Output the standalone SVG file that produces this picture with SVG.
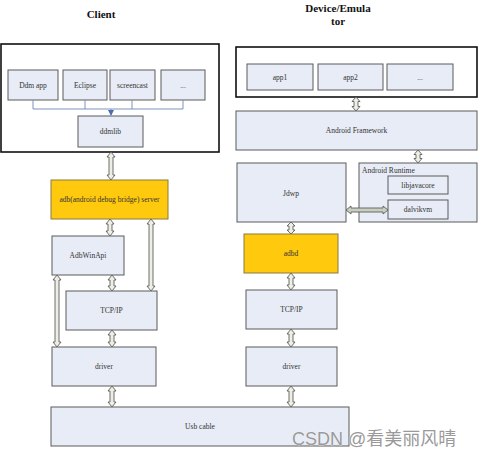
<svg xmlns="http://www.w3.org/2000/svg" width="478" height="456" viewBox="0 0 478 456">
<style>
.bg{fill:#ffffff}
.box{fill:#e7ecf6;stroke:#5a5a5a;stroke-width:1}
.ybox{fill:#ffc90e;stroke:#8a7a40;stroke-width:1}
.frame{fill:#ffffff;stroke:#111111;stroke-width:1.6}
.lbl{font-family:"Liberation Serif",serif;font-size:7.5px;fill:#333333;text-anchor:middle;dominant-baseline:central}
.ttl{font-family:"Liberation Serif",serif;font-size:11px;font-weight:bold;fill:#111111;text-anchor:middle}
.arr{fill:#eeeee4;stroke:#5e5e5e;stroke-width:0.9;stroke-linejoin:miter}
.harr{fill:#c9cfc0;stroke:#5e5e5e;stroke-width:0.9}
.bus{fill:none;stroke:#7d93bb;stroke-width:1}
.wm{font-family:"Liberation Sans","Noto Sans CJK SC",sans-serif;font-size:18px;fill:#9a9a9a;stroke:#ffffff;stroke-width:0.4;paint-order:stroke}
</style>
<defs>
<marker id="blueHead" viewBox="0 0 6 6" refX="5" refY="3" markerWidth="6" markerHeight="6" orient="auto" markerUnits="userSpaceOnUse">
<path d="M0,0 L6,3 L0,6 Z" fill="#4a6fae"/>
</marker>
</defs>
<rect class="bg" x="0" y="0" width="478" height="456"/>

<text class="ttl" x="101" y="18">Client</text>
<text class="ttl" x="338" y="12">Device/Emula</text>
<text class="ttl" x="338" y="25">tor</text>

<g id="client-frame"><rect class="frame" x="1" y="44" width="218" height="108"/></g>
<g id="ddm-app"><rect class="box" x="8" y="70" width="50" height="30"/><text class="lbl" x="33" y="85">Ddm app</text></g>
<g id="eclipse"><rect class="box" x="63" y="70" width="44" height="30"/><text class="lbl" x="85" y="85">Eclipse</text></g>
<g id="screencast"><rect class="box" x="110" y="70" width="45" height="30"/><text class="lbl" x="132.5" y="85">screencast</text></g>
<g id="client-more"><rect class="box" x="161" y="70" width="44" height="30"/><text class="lbl" x="183" y="85">...</text></g>
<g id="ddmlib"><rect class="box" x="78" y="116" width="65" height="31"/><text class="lbl" x="110.5" y="131.5">ddmlib</text></g>
<g id="adb-server"><rect class="ybox" x="51" y="180" width="117" height="39"/><text class="lbl" x="109.5" y="199.5">adb(android debug bridge) server</text></g>
<g id="adbwinapi"><rect class="box" x="52" y="236" width="72" height="39"/><text class="lbl" x="88" y="255.5">AdbWinApi</text></g>
<g id="client-tcpip"><rect class="box" x="66" y="291" width="91" height="39"/><text class="lbl" x="111.5" y="310.5">TCP/IP</text></g>
<g id="client-driver"><rect class="box" x="52" y="347" width="104" height="39"/><text class="lbl" x="104" y="366.5">driver</text></g>
<g id="usb-cable"><rect class="box" x="51" y="407" width="298" height="39"/><text class="lbl" x="200" y="426.5">Usb cable</text></g>

<g id="device-frame"><rect class="frame" x="236" y="47" width="241" height="50"/></g>
<g id="app1"><rect class="box" x="247" y="64" width="66" height="26"/><text class="lbl" x="280" y="77">app1</text></g>
<g id="app2"><rect class="box" x="318" y="64" width="65" height="26"/><text class="lbl" x="350.5" y="77">app2</text></g>
<g id="device-more"><rect class="box" x="387" y="64" width="66" height="26"/><text class="lbl" x="420" y="77">...</text></g>
<g id="android-framework"><rect class="box" x="236" y="111" width="241" height="39"/><text class="lbl" x="356.5" y="130.5">Android Framework</text></g>
<g id="jdwp"><rect class="box" x="237" y="163" width="109" height="59"/><text class="lbl" x="291" y="193">Jdwp</text></g>
<g id="android-runtime"><rect class="box" x="359" y="163" width="118" height="59"/><text class="lbl" x="362" y="170" style="text-anchor:start">Android Runtime</text></g>
<g id="libjavacore"><rect class="box" x="388" y="176" width="60" height="18"/><text class="lbl" x="418" y="185">libjavacore</text></g>
<g id="dalvikvm"><rect class="box" x="388" y="200" width="60" height="19"/><text class="lbl" x="418" y="209.5">dalvikvm</text></g>
<g id="adbd"><rect class="ybox" x="244" y="234" width="94" height="39"/><text class="lbl" x="291" y="253.5">adbd</text></g>
<g id="device-tcpip"><rect class="box" x="246" y="290" width="91" height="39"/><text class="lbl" x="291.5" y="309.5">TCP/IP</text></g>
<g id="device-driver"><rect class="box" x="246" y="347" width="91" height="39"/><text class="lbl" x="291.5" y="366.5">driver</text></g>

<g id="connectors">
<path class="bus" d="M33,100 V109 M85,100 V109 M132,100 V109 M183,100 V109 M33,109 H183"/>
<path class="bus" d="M111,109 V115" stroke="#4a6fae" marker-end="url(#blueHead)"/>
<path class="arr" d="M111,152 L115,157 L113,157 L113,175 L115,175 L111,180 L107,175 L109,175 L109,157 L107,157 Z"/>
<path class="arr" d="M110,219 L114,224 L112,224 L112,231 L114,231 L110,236 L106,231 L108,231 L108,224 L106,224 Z"/>
<path class="arr" d="M151,219 L155,224 L153,224 L153,286 L155,286 L151,291 L147,286 L149,286 L149,224 L147,224 Z"/>
<path class="arr" d="M112,275 L116,280 L114,280 L114,286 L116,286 L112,291 L108,286 L110,286 L110,280 L108,280 Z"/>
<path class="arr" d="M57,275 L61,280 L59,280 L59,342 L61,342 L57,347 L53,342 L55,342 L55,280 L53,280 Z"/>
<path class="arr" d="M112,330 L116,335 L114,335 L114,342 L116,342 L112,347 L108,342 L110,342 L110,335 L108,335 Z"/>
<path class="arr" d="M112,386 L116,391 L114,391 L114,402 L116,402 L112,407 L108,402 L110,402 L110,391 L108,391 Z"/>
<path class="arr" d="M356,97 L360,101.5 L358,101.5 L358,106.5 L360,106.5 L356,111 L352,106.5 L354,106.5 L354,101.5 L352,101.5 Z"/>
<path class="arr" d="M418,150 L422,154.5 L420,154.5 L420,158.5 L422,158.5 L418,163 L414,158.5 L416,158.5 L416,154.5 L414,154.5 Z"/>
<path class="harr" d="M346,210 L351,206 L351,208 L383,208 L383,206 L388,210 L383,214 L383,212 L351,212 L351,214 Z"/>
<path class="arr" d="M291,222 L295,226 L293,226 L293,230 L295,230 L291,234 L287,230 L289,230 L289,226 L287,226 Z"/>
<path class="arr" d="M291,273 L295,278 L293,278 L293,285 L295,285 L291,290 L287,285 L289,285 L289,278 L287,278 Z"/>
<path class="arr" d="M291,329 L295,334 L293,334 L293,342 L295,342 L291,347 L287,342 L289,342 L289,334 L287,334 Z"/>
<path class="arr" d="M291,386 L295,391 L293,391 L293,402 L295,402 L291,407 L287,402 L289,402 L289,391 L287,391 Z"/>
</g>

<text class="wm" x="292" y="445">CSDN @看美丽风晴</text>
</svg>
